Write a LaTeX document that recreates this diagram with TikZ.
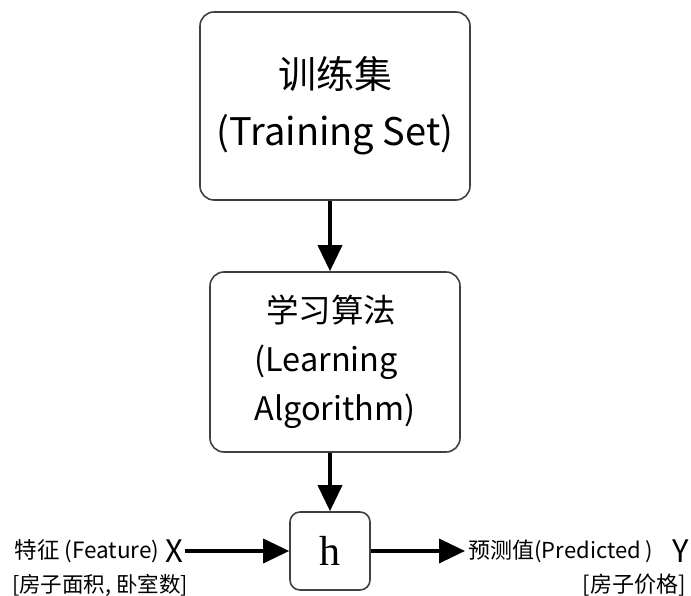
\documentclass[tikz,border=0pt]{standalone}
\usepackage{fontspec}
\setmainfont{Noto Sans CJK SC}
\usetikzlibrary{arrows.meta}
\tikzset{
  stagebox/.style={draw=black!75,line width=1.6pt,rounded corners=14pt,fill=white,inner sep=0pt},
  flow/.style={line width=3.6pt,-{Triangle[length=26pt,width=24pt]}},
}
\begin{document}
\begin{tikzpicture}[x=1pt,y=-1pt]
		\useasboundingbox (0,0) rectangle (691,596);
		% boxes
		\node[stagebox,minimum width=270pt,minimum height=188pt,align=center,font=\fontsize{38}{57}\selectfont] (train) at (335,106) {训练集\\(Training Set)};
		\node[stagebox,minimum width=250pt,minimum height=180pt,align=left,font=\fontsize{32.5}{49}\selectfont] (learn) at (335,362) {\hspace*{12pt}学习算法\\(Learning\\Algorithm)};
		\node[stagebox,rounded corners=10pt,minimum width=80pt,minimum height=78pt,font=\fontspec{Liberation Serif}\fontsize{42}{44}\selectfont] (h) at (330,551) {h};
		% inputs and outputs
		\node[anchor=east,font=\fontsize{22.5}{24}\selectfont] (feat) at (163,551) {特征 (Feature)};
		\node[anchor=west,font=\fontsize{31}{32}\selectfont,inner sep=2pt] (x) at (feat.east) {X};
		\node[font=\fontsize{21.5}{23}\selectfont] (xval) at (100,585) {[房子面积, 卧室数]};
		\node[anchor=west,font=\fontsize{22}{24}\selectfont] (pred) at (465,551) {预测值(Predicted )};
		\node[anchor=east,font=\fontsize{31}{32}\selectfont,inner sep=2pt] (y) at (691,551) {Y};
		\node[font=\fontsize{22}{23}\selectfont] (yval) at (634,585) {[房子价格]};
		% arrows
		\draw[flow] (train.south -| 330,0) -- (learn.north -| 330,0);
		\draw[flow] (learn.south -| 330,0) -- (h.north);
		\draw[flow] (x.east) -- (h.west);
		\draw[flow] (h.east) -- (pred.west);
\end{tikzpicture}
\end{document}
